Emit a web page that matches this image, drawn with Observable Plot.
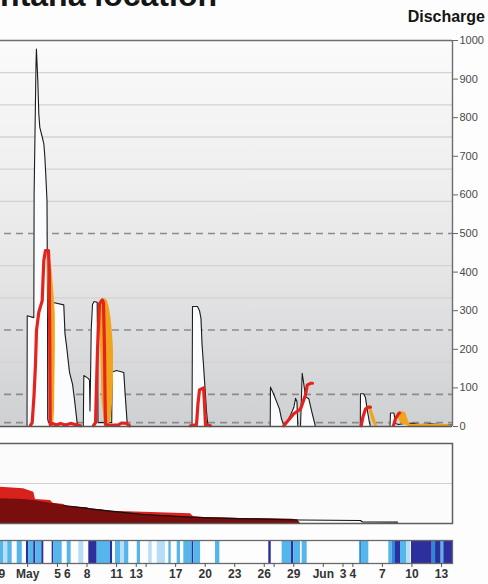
<!DOCTYPE html>
<html><head><meta charset="utf-8">
<script src="https://cdn.jsdelivr.net/npm/d3@7"></script>
<script src="https://cdn.jsdelivr.net/npm/@observablehq/plot@0.6"></script>
<style>
html,body{margin:0;padding:0;background:#fdfdfd;}
#wrap{position:relative;width:488px;height:584px;overflow:hidden;background:#fdfdfd;font-family:"Liberation Sans",Arial,sans-serif;}
.p{position:absolute;left:-20px;width:508px;}
#title{position:absolute;right:271px;top:-21px;font-size:32px;line-height:32px;font-weight:bold;white-space:nowrap;color:#151515;}
#ylab{position:absolute;right:3px;top:8.6px;font-size:16px;line-height:16px;font-weight:bold;color:#151515;}
</style></head><body>
<div id="wrap">
  <div id="main" class="p" style="top:0"></div>
  <div id="mid" class="p" style="top:438px"></div>
  <div id="strip" class="p" style="top:535px"></div>
  <div id="title">Montana location</div>
  <div id="ylab">Discharge</div>
</div>
<script>
// ---- x axis: days since 1 May ----
const tickDays   = [-2, 0.97, 4, 5, 7, 10, 12, 13, 16, 19, 22, 25, 26, 28, 31, 33, 34, 37, 40, 43];
const tickLabels = ["29","May","5","6","8","11","13","","17","20","23","26","","29","Jun","3","4","7","10","13"];

// ---- discharge (black line, white fill) ----
const dischargeDay = [-3.82,0.904,0.924,1.595,1.625,1.818,1.859,2.001,2.102,2.204,2.448,2.610,2.712,2.833,2.935,2.986,3.006,3.087,3.412,3.463,
  4.641,4.763,4.915,5.220,5.525,5.728,6.002,6.134,6.622,6.673,7.150,7.251,7.302,7.353,7.424,7.556,7.708,8.033,8.084,8.115,
  9.506,9.557,9.994,10.735,10.857,11.080,11.212,17.662,17.712,18.220,18.423,18.575,18.677,18.829,18.982,19.134,19.286,
  25.603,25.634,25.939,26.243,26.548,26.751,26.984,27.330,27.665,28.000,28.173,28.325,28.406,28.680,28.853,29.015,29.188,29.523,29.868,30.203,
  34.753,34.774,35.078,35.281,35.484,35.688,35.789,37.769,37.820,38.175,38.327,38.632,39.343,40.054,40.866,41.882,42.897,44.12];
const dischargeValue = [0,0,287,282,600,940,978,896,810,775,750,733,700,640,585,320,20,10,10,322,
  315,240,210,140,110,70,8,0,0,132,124,120,40,120,250,316,324,322,150,10,
  10,141,145,140,90,8,0,0,311,311,300,280,215,160,100,40,0,
  0,102,85,65,45,20,3,13,30,49,73,65,0,0,138,110,77,72,34,0,
  0,85,85,75,40,10,0,0,35,35,8,5,8,8,5,7,5,4];

// ---- forecast (red line) ----
const forecastDay = [1.259,1.432,1.615,1.767,1.869,2.102,2.448,2.529,2.610,2.783,3.087,3.169,3.219,3.260,3.494,3.900,4.306,4.814,5.322,6.033,6.337,6.5,
  7.658,7.861,8.064,8.267,8.541,8.673,8.775,8.826,8.877,9.384,10.196,10.501,11.009,11.314,11.5,
  17.509,18.118,18.271,18.423,18.829,18.931,19.032,19.540,19.7,
  26.984,28.000,28.680,29.188,29.360,29.695,29.898,30.0,
  34.845,35.028,35.281,35.586,35.789,35.9,
  38.129,38.332,38.637,38.74];
const forecastValue = [3,10,80,163,249,296,326,380,430,456,456,400,200,5,8,4,8,4,8,4,2,null,
  2,10,200,318,328,320,200,80,5,3,4,9,8,2,null,
  2,5,60,95,100,60,5,2,null,
  2,33,45,82,107,112,112,null,
  2,25,45,50,50,null,
  3,20,33,35];

// ---- forecast range (orange band) ----
const bandEvent = [1,1,1,1,1,1,1, 2,2,2,2,2,2,2,2,2, 3,3,3, 5,5,5,5, 6,6,6,6,6,6,6,6,6,6];
const bandDay   = [2.986,3.138,3.291,3.443,3.595,3.697,3.778, 8.369,8.521,8.724,8.876,9.080,9.283,9.435,9.587,9.689,
  18.931,19.134,19.337, 35.688,35.962,36.196,36.470, 38.535,38.738,39.042,39.343,39.546,39.698,39.850,41.882,43.61,43.9];
const bandLow   = [420,200,10,0,0,40,200, 220,70,20,3,0,3,20,60,120, 0,0,0, 40,15,2,0, 28,15,5,3,2,0,0,0,0,0];
const bandHigh  = [445,442,430,405,360,320,290, 290,325,330,330,325,305,280,240,200, 8,10,2, 50,42,25,4, 34,37,38,36,22,10,6,5,5,3];

// ---- lower panel (stacked areas, %) ----
const storeDay   = [-3.82,-1.79,0.548,1.595,1.767,3.290,3.565,4.641,4.987,7.018,7.353,8.369,9.384,12.736,17.509,17.814,19.205,23.603,27.969,28.376,28.68];
const storeUpper = [45.6,45.4,43.4,39.1,30,28.75,25.4,23.75,21.25,19.6,17.1,17,15.4,14.1,12.1,8.75,7.1,5.9,5.4,0,0];
const storeLower = [31.25,30.9,30,28.75,28.5,25.4,25,22.5,21.6,19,18.4,17,15.4,11.25,7.9,7.6,7.1,5.9,5,4.75,0];
const traceDay   = [4.641,7.018,7.353,9.384,12.736,17.509,19.205,23.603,28.68,34.774,34.977,38.53];
const traceValue = [22.5,19,18.4,15.4,11.25,7.9,7.1,5.9,4.4,3.75,1.9,1.6];

// ---- strip (start day, end day, level 1..4) ----
const stripStart = [-3.82,-1.45,-1.05,-0.09,0.85,1.06,1.59,1.80,2.41,3.46,3.63,4.99,6.16,7.18,8.03,9.38,9.89,10.40,10.81,12.10,13.27,14.13,15.31,16.16,16.83,17.68,17.85,20.05,25.46,26.82,27.77,28.00,28.85,34.70,34.88,37.65,37.99,38.33,38.84,39.45,39.95,42.06,42.40,42.97,43.24];
const stripEnd   = [-1.45,-1.05,-0.60,0.42,1.06,1.59,1.80,2.41,2.61,3.63,4.48,5.39,6.67,8.03,9.38,9.59,10.40,10.81,11.24,12.43,13.62,14.97,15.55,16.49,17.68,17.85,18.53,20.49,25.71,27.77,28.00,28.68,29.36,34.88,35.62,37.99,38.33,38.84,39.45,39.85,42.06,42.40,42.97,43.24,44.12];
const stripLevel = [2,1,2,2,4,2,4,2,4,4,2,2,1,4,2,4,2,1,2,2,1,1,2,2,2,4,2,2,4,2,4,2,2,3,2,2,3,4,2,1,4,3,4,2,4];

// ---- build tables ----
const discharge = dischargeDay.map((d,i)=>({day:d, value:dischargeValue[i]}));
const forecast  = forecastDay.map((d,i)=>({day:d, value:forecastValue[i]}));
const band      = bandDay.map((d,i)=>({day:d, low:bandLow[i], high:bandHigh[i], event:bandEvent[i]}));
const store     = storeDay.map((d,i)=>({day:d, upper:storeUpper[i], lower:storeLower[i]}));
const trace     = traceDay.map((d,i)=>({day:d, value:traceValue[i]}));
const strip     = stripStart.map((s,i)=>({start:s, end:stripEnd[i], level:stripLevel[i]}));
const labelOf   = new Map(tickDays.map((d,i)=>[d, tickLabels[i]]));

const xDomain = [-3.82, 44.12];
const font = "'Liberation Sans', Arial, sans-serif";
const gridLevels = [166.7, 333.3, 416.7, 583.3, 666.7, 750, 833.3, 916.7];
const thresholds = [10, 83.3, 250, 500];

const main = Plot.plot({
  width: 508, height: 430, marginTop: 40, marginBottom: 4, marginLeft: 0, marginRight: 36,
  x: {domain: xDomain, axis: null},
  y: {domain: [0, 1000], axis: null},
  style: {fontFamily: font, fontSize: "11px", color: "#4a4a4a", background: "transparent", maxWidth: "none", overflow: "visible"},
  marks: [
    Plot.frame({fill: "url(#bgGrad)", stroke: null}),
    Plot.ruleY(gridLevels, {stroke: "#d8d0cd", strokeWidth: 1.4}),
    Plot.ruleY(thresholds, {stroke: "#8c8c8c", strokeWidth: 1.6, strokeDasharray: "7,5"}),
    Plot.areaY(discharge, {x: "day", y: "value", fill: "#fbfcfd"}),
    Plot.line(discharge, {x: "day", y: "value", stroke: "#1c1c1c", strokeWidth: 1.1}),
    Plot.areaY(band, {x: "day", y1: "low", y2: "high", z: "event", fill: "#f2a31c"}),
    Plot.line(forecast, {x: "day", y: "value", stroke: "#e5231e", strokeWidth: 3.2, strokeLinejoin: "round", strokeLinecap: "round"}),
    Plot.ruleY([1000], {stroke: "#6e6e6e", strokeWidth: 1.6}),
    Plot.ruleY([0], {stroke: "#555", strokeWidth: 1.3}),
    Plot.ruleX([xDomain[1]], {stroke: "#6e6e6e", strokeWidth: 1.4}),
    Plot.axisY({anchor: "right", ticks: [0,100,200,300,400,500,600,700,800,900,1000], tickFormat: d3.format("d"),
      tickSize: 5, tickPadding: 2, label: null, stroke: "#666"})
  ]
});
const defs = d3.select(main).insert("defs", ":first-child");
const grad = defs.append("linearGradient").attr("id", "bgGrad").attr("x1", 0).attr("y1", 0).attr("x2", 0).attr("y2", 1);
grad.append("stop").attr("offset", "0%").attr("stop-color", "#fbfbfc");
grad.append("stop").attr("offset", "55%").attr("stop-color", "#e8e8e9");
grad.append("stop").attr("offset", "100%").attr("stop-color", "#cfd0d2");
document.getElementById("main").append(main);

const mid = Plot.plot({
  width: 508, height: 90, marginTop: 5, marginBottom: 5, marginLeft: 0, marginRight: 36,
  x: {domain: xDomain, axis: null},
  y: {domain: [0, 100], axis: null},
  style: {fontFamily: font, background: "transparent", maxWidth: "none"},
  marks: [
    Plot.frame({fill: "#fbfbfb", stroke: null}),
    Plot.ruleY([50], {stroke: "#cfcfcf", strokeWidth: 1.2}),
    Plot.areaY(store, {x: "day", y: "upper", fill: "#d8221e"}),
    Plot.areaY(store, {x: "day", y: "lower", fill: "#7a0e0c"}),
    Plot.line(trace, {x: "day", y: "value", stroke: "#111", strokeWidth: 1.2}),
    Plot.frame({stroke: "#5f5f5f", strokeWidth: 1.5})
  ]
});
document.getElementById("mid").append(mid);

const stripPlot = Plot.plot({
  width: 508, height: 49, marginTop: 5, marginBottom: 21, marginLeft: 0, marginRight: 36,
  x: {domain: xDomain},
  y: {domain: [0, 1], axis: null},
  color: {type: "ordinal", domain: [1, 2, 3, 4], range: ["#b6def6", "#55b6ec", "#2e88d8", "#2d309c"]},
  style: {fontFamily: font, fontSize: "12px", fontWeight: "bold", color: "#333", background: "transparent", maxWidth: "none", overflow: "visible"},
  marks: [
    Plot.frame({fill: "#fdfdfd", stroke: null}),
    Plot.rect(strip, {x1: "start", x2: "end", y1: 0, y2: 1, fill: "level"}),
    Plot.frame({stroke: "#6a6a6a", strokeWidth: 1.3}),
    Plot.axisX({ticks: tickDays, tickFormat: d => labelOf.get(d), tickSize: 4, tickPadding: 2, label: null, stroke: "#555"})
  ]
});
document.getElementById("strip").append(stripPlot);
</script>
</body></html>
